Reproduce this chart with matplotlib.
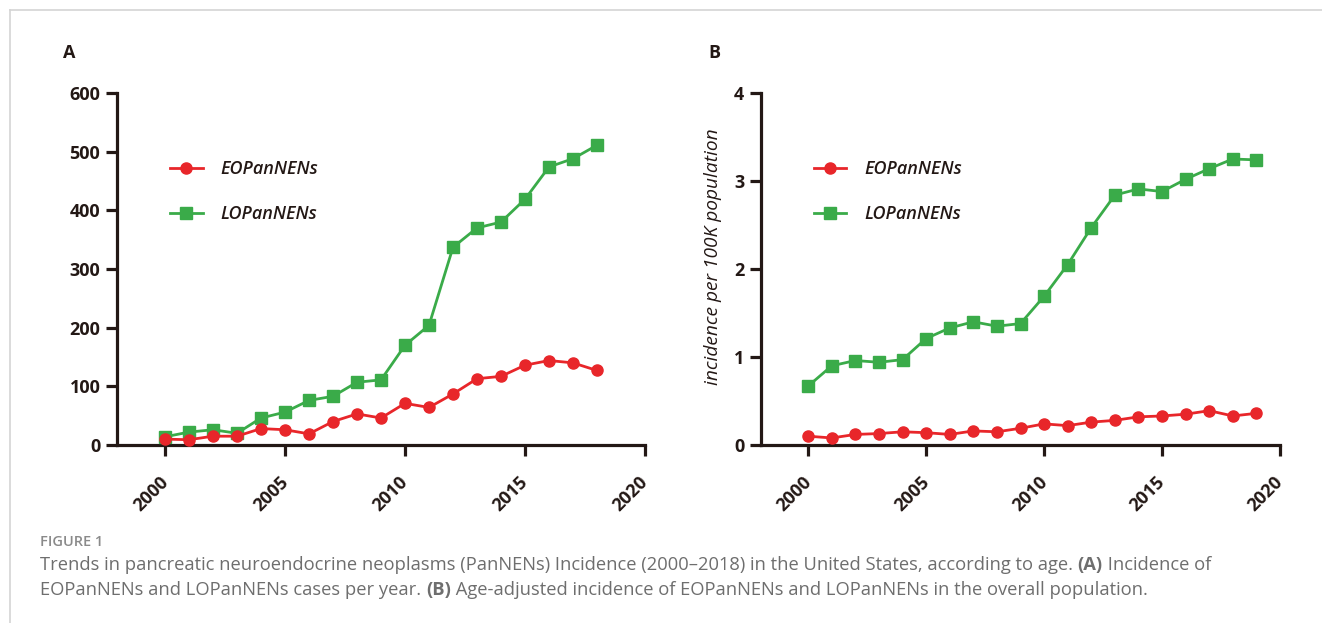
import matplotlib
matplotlib.use("Agg")
import matplotlib.pyplot as plt
import matplotlib.transforms as mtransforms

plt.rcParams['font.family'] = ['Open Sans', 'DejaVu Sans']

# ---- data ----
years_a = list(range(2000, 2019))
eo_cases = [10, 9, 15, 15, 28, 26, 19, 40, 53, 46, 71, 64, 87, 113, 117, 136, 144, 140, 127]
lo_cases = [14, 22, 26, 20, 46, 56, 76, 83, 107, 111, 170, 204, 337, 370, 380, 419, 474, 488, 511]

years_b = list(range(2000, 2020))
eo_rate = [0.10, 0.08, 0.12, 0.13, 0.15, 0.14, 0.12, 0.16, 0.15, 0.19,
           0.24, 0.22, 0.26, 0.28, 0.32, 0.33, 0.35, 0.39, 0.33, 0.36]
lo_rate = [0.67, 0.90, 0.96, 0.94, 0.97, 1.21, 1.33, 1.40, 1.35, 1.38,
           1.69, 2.05, 2.47, 2.84, 2.91, 2.88, 3.02, 3.14, 3.25, 3.24]

x_ticks = [2000, 2005, 2010, 2015, 2020]
labels = ['EOPanNENs', 'LOPanNENs']

RED = '#e8262a'
GREEN = '#3aab49'
INK = '#231815'

fig = plt.figure(figsize=(13.22, 6.23), dpi=100)
W, H = 1322, 623

# small left shift for the rotated year labels
shift = mtransforms.ScaledTranslation(-6 / 100, 0, fig.dpi_scale_trans)


def style_axis(ax, yticks, ymax):
    ax.set_xlim(1998, 2020)
    ax.set_ylim(0, ymax)
    ax.set_xticks(x_ticks)
    ax.set_yticks(yticks)
    for side in ['top', 'right']:
        ax.spines[side].set_visible(False)
    for side in ['left', 'bottom']:
        ax.spines[side].set_linewidth(2.3)
        ax.spines[side].set_color(INK)
        ax.spines[side].set_capstyle('projecting')
    ax.tick_params(direction='out', length=8, width=2.3, color=INK, labelcolor=INK,
                   labelsize=13)
    ax.tick_params(axis='y', pad=4)
    ax.tick_params(axis='x', pad=12)
    for t in ax.get_yticklabels():
        t.set_fontweight('bold')
    for t in ax.get_xticklabels():
        t.set_fontweight('bold')
        t.set_rotation(45)
        t.set_ha('right')
        t.set_va('top')
        t.set_rotation_mode('anchor')
        t.set_transform(t.get_transform() + shift)


def draw_panel(ax, x, eo, lo):
    ax.plot(x, eo, color=RED, lw=2, marker='o', ms=8, label=labels[0], clip_on=False, zorder=4)
    ax.plot(x, lo, color=GREEN, lw=2, marker='s', ms=8, label=labels[1], clip_on=False, zorder=3)
    leg = ax.legend(loc='upper left', bbox_to_anchor=(0.07, 0.856), frameon=False,
                    handlelength=1.8, handletextpad=1.0, labelspacing=1.5,
                    prop={'family': 'Open Sans', 'style': 'italic',
                          'weight': 'semibold', 'size': 13})
    for t in leg.get_texts():
        t.set_color(INK)


# panel A
ax1 = fig.add_axes([117 / W, 1 - 445 / H, 528 / W, 352 / H])
draw_panel(ax1, years_a, eo_cases, lo_cases)
style_axis(ax1, range(0, 601, 100), 600)

# panel B
ax2 = fig.add_axes([761 / W, 1 - 445 / H, 519 / W, 352 / H])
draw_panel(ax2, years_b, eo_rate, lo_rate)
style_axis(ax2, range(0, 5), 4)
ax2.set_ylabel('incidence per 100K population', fontsize=13.8, style='italic', color=INK)
ax2.yaxis.set_label_coords(-0.075, 0.535)

fig.text(63 / W, 1 - 53 / H, 'A', fontsize=13, fontweight='bold', color=INK, va='center')
fig.text(708 / W, 1 - 53 / H, 'B', fontsize=13, fontweight='bold', color=INK, va='center')

# frame lines of the figure box
fig.add_artist(plt.Line2D([10 / W, 10 / W], [0, 1 - 10 / H], color='#d4d4d4', lw=1.2))
fig.add_artist(plt.Line2D([10 / W, 1], [1 - 10 / H, 1 - 10 / H], color='#d4d4d4', lw=1.2))

# caption
fig.text(40 / W, 1 - 542 / H, 'FIGURE 1', fontsize=10.5, fontweight='semibold',
         color='#8a8a8a', va='center')

renderer = fig.canvas.get_renderer()


def draw_runs(x, y, runs):
    for s, w in runs:
        t = fig.text(x, y, s, fontsize=13.2, fontweight=w, color='#6e6e6e', va='center')
        bb = t.get_window_extent(renderer)
        x += bb.width / fig.bbox.width


draw_runs(40 / W, 1 - 565 / H, [
    ('Trends in pancreatic neuroendocrine neoplasms (PanNENs) Incidence (2000\u20132018) '
     'in the United States, according to age. ', 'normal'),
    ('(A)', 'bold'),
    (' Incidence of', 'normal')])
draw_runs(40 / W, 1 - 590 / H, [
    ('EOPanNENs and LOPanNENs cases per year. ', 'normal'),
    ('(B)', 'bold'),
    (' Age-adjusted incidence of EOPanNENs and LOPanNENs in the overall population.', 'normal')])

fig.savefig('out.png', dpi=100)
